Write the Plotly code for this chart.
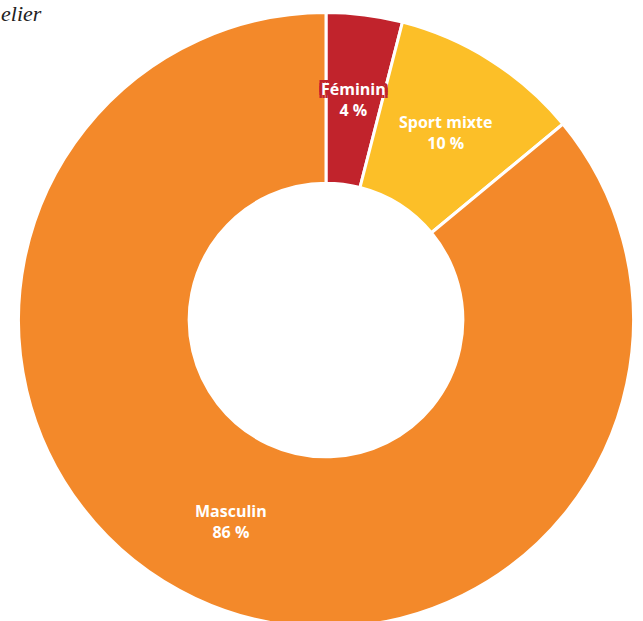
import math
import plotly.graph_objects as go

labels = ["Féminin", "Sport mixte", "Masculin"]
values = [4, 10, 86]
colors = ["#C1232C", "#FCBF28", "#F3892A"]

W, H = 643, 640
cx, cy, R = 326, 320, 307.5
HOLE = 0.445

fig = go.Figure(go.Pie(
    labels=labels,
    values=values,
    sort=False,
    direction="clockwise",
    rotation=0,
    hole=HOLE,
    marker=dict(colors=colors, line=dict(color="white", width=3)),
    textinfo="none",
    hoverinfo="label+percent",
    showlegend=False,
    domain=dict(x=[(cx - R) / W, (cx + R) / W], y=[1 - (cy + R) / H, 1 - (cy - R) / H]),
))

# Labels placed at the middle of each ring slice, derived from the values
total = sum(values)
annotations = []
cum = 0
r_mid = R * (1 + HOLE) / 2
for i, (lab, val, col) in enumerate(zip(labels, values, colors)):
    mid = (cum + val / 2) / total * 2 * math.pi
    cum += val
    px = cx + r_mid * math.sin(mid)
    py = cy - r_mid * math.cos(mid)
    font = dict(family="Open Sans", size=16, color="white", weight="bold")
    if val / total < 0.06:
        # small slice: text gets a halo in the slice colour so it reads over neighbours
        s = ", ".join(f"{dx}px {dy}px 0 {col}" for dx in (-3, 0, 3) for dy in (-3, 0, 3))
        font["shadow"] = s
    annotations.append(dict(text=f"{lab}<br>{val} %", x=px / W, y=1 - py / H,
                            xref="paper", yref="paper", xanchor="center", yanchor="middle",
                            showarrow=False, font=font))

annotations.append(dict(
    text="elier", xref="paper", yref="paper", x=0, y=1,
    xanchor="left", yanchor="top", showarrow=False,
    font=dict(family="Liberation Serif", size=22, color="#222222", style="italic"),
    borderpad=0,
))

fig.update_layout(
    width=W, height=H,
    margin=dict(l=0, r=0, t=0, b=0),
    paper_bgcolor="white",
    plot_bgcolor="white",
    annotations=annotations,
)

fig.write_html("out.html", post_script="document.documentElement.style.overflow='hidden';document.body.style.overflow='hidden';")
